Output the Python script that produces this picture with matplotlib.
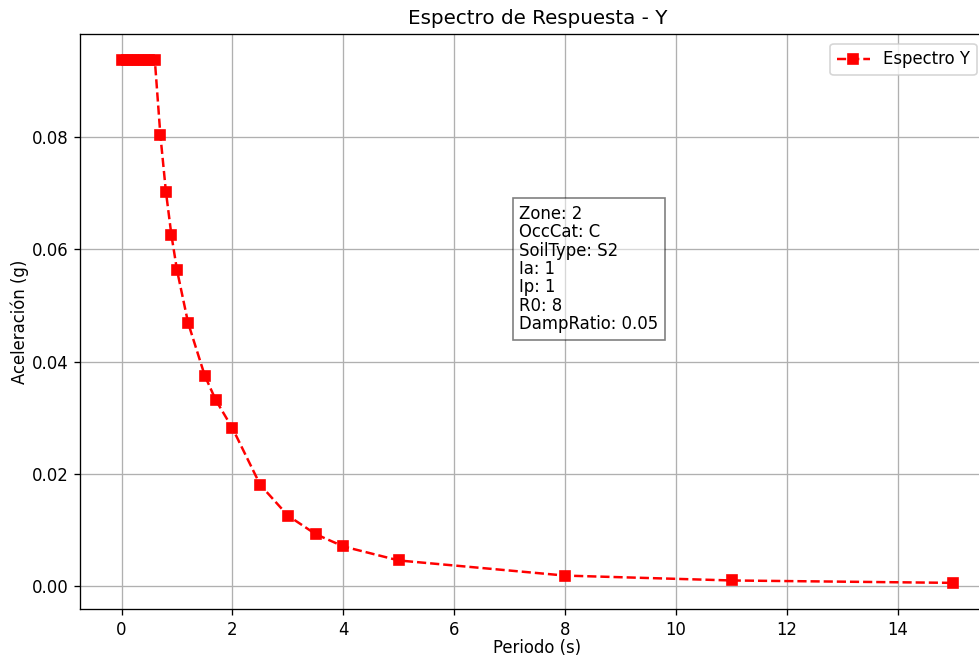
import numpy as np
import matplotlib.pyplot as plt

# Periodos (s) y aceleraciones espectrales (g) del espectro en direccion Y
periodos = [0.0, 0.1, 0.2, 0.3, 0.4, 0.5, 0.6, 0.7, 0.8, 0.9, 1.0, 1.2, 1.5,
            1.7, 2.0, 2.5, 3.0, 3.5, 4.0, 5.0, 8.0, 11.0, 15.0]
aceleraciones = [0.0938, 0.0938, 0.0938, 0.0938, 0.0938, 0.0938, 0.0938,
                 0.0804, 0.0703, 0.0625, 0.0563, 0.0469, 0.0375, 0.0331,
                 0.0281, 0.0180, 0.0125, 0.0092, 0.0070, 0.0045, 0.0018,
                 0.00093, 0.0005]

parametros = ['Zone: 2', 'OccCat: C', 'SoilType: S2', 'Ia: 1', 'Ip: 1',
              'R0: 8', 'DampRatio: 0.05']


def plot_espectro():
    '''
    Grafica el espectro de respuesta con los parametros de diseno.
    '''
    dpi = 119
    fig = plt.figure(figsize=(980 / dpi, 655 / dpi), dpi=dpi)
    ax = fig.add_axes([0.0816, 0.0702, 0.9337, 0.878])

    ax.plot(periodos, aceleraciones, 'rs--', label='Espectro Y')
    ax.set_title('Espectro de Respuesta - Y')
    ax.set_xlabel('Periodo (s)', labelpad=0)
    ax.set_ylabel('Aceleración (g)', labelpad=1.6)
    ax.grid(True)
    ax.legend(loc='upper right', bbox_to_anchor=(0.98, 0.983),
              borderaxespad=0)

    # Cuadro con los parametros usados
    ax.text(0.480, 0.703, '\n'.join(parametros), transform=ax.transAxes,
            va='top', ha='left', linespacing=1.03,
            bbox=dict(facecolor='white', alpha=0.5))

    fig.savefig('out.png', dpi=dpi)


if __name__ == '__main__':
    plot_espectro()
